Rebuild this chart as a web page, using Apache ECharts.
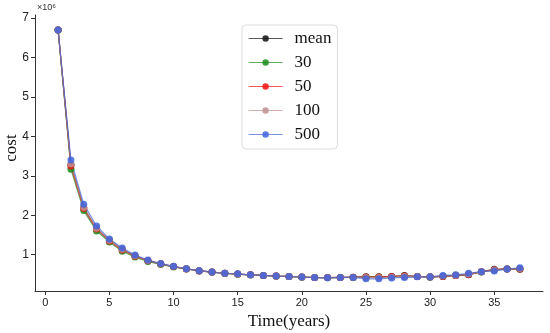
<!DOCTYPE html>
<html><head><meta charset="utf-8">
<script src="https://cdn.jsdelivr.net/npm/echarts@6/dist/echarts.min.js"></script>
<style>html,body{margin:0;padding:0;background:#fff}#c{width:550px;height:333px}</style>
</head><body><div id="c"></div>
<script>
const years = [1,2,3,4,5,6,7,8,9,10,11,12,13,14,15,16,17,18,19,20,21,22,23,24,25,26,27,28,29,30,31,32,33,34,35,36,37];
const seriesNames = ['mean','30','50','100','500'];
const meanVals = [6.70,3.28,2.19,1.66,1.36,1.13,0.97,0.85,0.77,0.70,0.645,0.595,0.56,0.53,0.51,0.49,0.475,0.46,0.45,0.435,0.425,0.42,0.425,0.43,0.44,0.44,0.45,0.47,0.45,0.43,0.45,0.47,0.49,0.57,0.63,0.64,0.63];
const vals30 = [6.70,3.17,2.12,1.60,1.32,1.09,0.94,0.83,0.75,0.69,0.635,0.59,0.555,0.525,0.505,0.485,0.47,0.455,0.445,0.43,0.42,0.415,0.42,0.425,0.43,0.435,0.44,0.45,0.445,0.44,0.455,0.48,0.51,0.565,0.615,0.635,0.645];
const vals50 = [6.70,3.25,2.17,1.65,1.35,1.12,0.96,0.85,0.765,0.70,0.64,0.59,0.56,0.53,0.51,0.49,0.475,0.46,0.45,0.435,0.425,0.42,0.425,0.43,0.435,0.435,0.45,0.46,0.45,0.44,0.45,0.475,0.50,0.57,0.62,0.64,0.64];
const vals100 = [6.70,3.30,2.20,1.67,1.37,1.14,0.975,0.855,0.77,0.705,0.645,0.595,0.56,0.53,0.51,0.49,0.475,0.46,0.45,0.435,0.425,0.42,0.425,0.425,0.42,0.42,0.43,0.45,0.445,0.44,0.46,0.48,0.51,0.57,0.61,0.635,0.65];
const vals500 = [6.70,3.40,2.28,1.73,1.40,1.17,0.99,0.865,0.775,0.705,0.645,0.595,0.56,0.53,0.515,0.49,0.475,0.46,0.45,0.435,0.42,0.415,0.425,0.425,0.39,0.39,0.41,0.425,0.44,0.44,0.475,0.49,0.53,0.57,0.59,0.635,0.67];
const xTicks = [0,5,10,15,20,25,30,35];
const yTicks = [1,2,3,4,5,6,7];
const colors = ['#111111','#1a8c1a','#f01010','#c09090','#3f63dc'];
const allVals = [meanVals, vals30, vals50, vals100, vals500];

const chart = echarts.init(document.getElementById('c'), null, {renderer:'canvas'});
const axisCol = '#333';
chart.setOption({
  animation:false,
  backgroundColor:'#fff',
  grid:{left:35,right:7,top:15,bottom:42,containLabel:false,outerBoundsMode:'none'},
  xAxis:{
    type:'value', min:-0.8, max:38.8,
    name:'Time(years)', nameLocation:'middle', nameGap:21,
    nameTextStyle:{fontFamily:'Liberation Serif', fontSize:17, color:'#111'},
    axisLine:{show:true,onZero:false,lineStyle:{color:axisCol,width:1}},
    axisTick:{show:true,length:4,customValues:xTicks,lineStyle:{color:axisCol}},
    axisLabel:{customValues:xTicks,fontFamily:'Liberation Sans',fontSize:11,color:'#222',margin:6},
    splitLine:{show:false}
  },
  yAxis:{
    type:'value', min:0.08, max:7.08,
    axisLine:{show:true,onZero:false,lineStyle:{color:axisCol,width:1}},
    axisTick:{show:true,length:4,customValues:yTicks,lineStyle:{color:axisCol}},
    axisLabel:{customValues:yTicks,fontFamily:'Liberation Sans',fontSize:12,color:'#222',margin:6},
    splitLine:{show:false}
  },
  legend:{
    orient:'vertical', left:242, top:25,
    padding:[5,6,6,6],
    borderColor:'#dddddd', borderWidth:1, borderRadius:4,
    itemWidth:34, itemHeight:8, itemGap:7,
    lineStyle:{width:1.2},
    textStyle:{fontFamily:'Liberation Serif', fontSize:17, color:'#111', padding:[0,0,0,7]},
    data:seriesNames
  },
  graphic:[
    {type:'text', left:37, top:3, style:{text:'×10⁶', fontFamily:'Liberation Sans', fontSize:9, fill:'#333'}},
    {type:'text', x:12, y:148, rotation:Math.PI/2,
     style:{text:'cost', fontFamily:'Liberation Serif', fontSize:17, fill:'#111', align:'center', verticalAlign:'middle'}}
  ],
  series: seriesNames.map((n,i)=>({
    name:n, type:'line',
    data: years.map((y,k)=>[y, allVals[i][k]]),
    symbol:'circle', symbolSize:7, showSymbol:true,
    lineStyle:{color:colors[i], width:1.2, opacity:0.7},
    itemStyle:{color:colors[i], opacity:0.85},
    emphasis:{disabled:true}
  }))
});
</script></body></html>
